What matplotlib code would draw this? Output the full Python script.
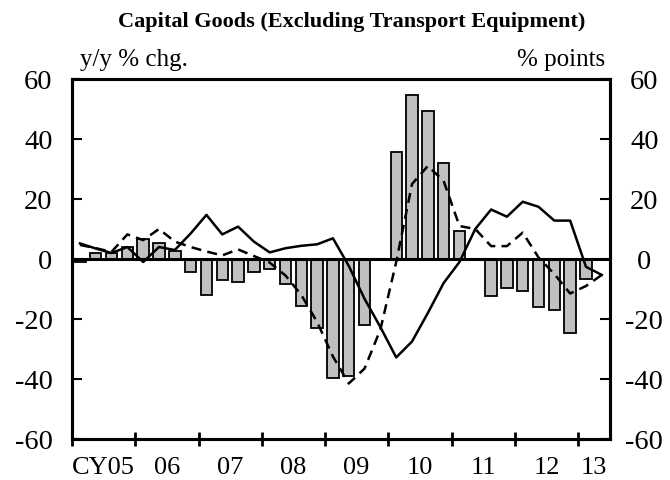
import matplotlib
matplotlib.use("Agg")
import matplotlib.pyplot as plt
import matplotlib.transforms as mtransforms
import numpy as np

plt.rcParams['font.family'] = ['Liberation Serif', 'DejaVu Serif']

# Quarterly data, CY2005 Q1 .. CY2013 Q2
bar_values = [-1, 2, 2, 4, 6.7, 5.5, 2.8, -4.2,
              -12, -7, -7.7, -4.3, -3.4, -8.4, -15.7, -23.1,
              -39.6, -39, -22, 0, 35.8, 54.7, 49.5, 32,
              9.2, 0, -12.3, -9.8, -10.6, -15.9, -17, -24.5,
              -6.8, 0]
solid_values = [5.2, 3.5, 2, 4, -1, 4, 3, 8.5,
                14.7, 8.2, 10.8, 5.8, 2.2, 3.6, 4.4, 4.9,
                6.9, -2.3, -13.3, -22.7, -32.8, -27.5, -18, -8,
                -1, 10, 16.5, 14.1, 19.1, 17.4, 12.8, 12.8,
                -2.6, -5.3]
dashed_values = [4.7, 3.6, 2.4, 8.2, 6.3, 10, 5.8, 4,
                 2.5, 1.2, 3.2, 1.0, -1.2, -5.5, -12, -21,
                 -32.5, -41.5, -36.5, -23.5, -1, 25, 31, 26,
                 11, 10, 4.3, 4.3, 8.8, 0.5, -5, -11.5,
                 -9, -5.3]
year_labels = ["CY05", "06", "07", "08", "09", "10", "11", "12", "13"]
y_ticks = [-60, -40, -20, 0, 20, 40, 60]

n = len(bar_values)
x = np.arange(n) + 0.5

fig = plt.figure(figsize=(6.7, 4.8), dpi=100)
ax = fig.add_axes([0.1075, 0.0854, 0.8025, 0.75])

ax.bar(x, bar_values, width=0.72, color="#c0c0c0", edgecolor="black",
       linewidth=1.3, zorder=2)
ax.axhline(0, color="black", linewidth=2.2, zorder=3)
ax.plot(x, solid_values, color="black", linewidth=1.8, zorder=4)
ax.plot(x, dashed_values, color="black", linewidth=1.8,
        linestyle=(0, (4, 2.5)), zorder=4)

ax.set_xlim(0, n)
ax.set_ylim(-60, 60)

# year boundaries as ticks, year names centred in each year
ax.set_xticks(np.arange(0, n, 4))
ax.set_xticklabels([])
ax.tick_params(axis="x", which="major", direction="inout", length=10,
               width=2, color="black")
label_pos = [4 * k + 2 for k in range(len(year_labels))]
label_pos[-1] = 33
year_trans = mtransforms.blended_transform_factory(ax.transData, fig.transFigure)
for pos, lab in zip(label_pos, year_labels):
    ax.text(pos, 0.012, lab, transform=year_trans,
            ha="center", va="baseline", fontsize=19)

# left scale
ax.set_yticks(y_ticks)
ax.set_yticklabels([str(v) for v in y_ticks], fontsize=20.5)
ax.tick_params(axis="y", direction="in", length=7, width=1.5,
               left=True, right=True, labelleft=True, labelright=False,
               pad=14)

# right scale, labels centred beside the frame
axr = ax.twinx()
axr.set_ylim(ax.get_ylim())
axr.set_yticks(y_ticks)
axr.set_yticklabels([str(v) for v in y_ticks], fontsize=20.5)
axr.tick_params(axis="y", direction="in", length=7, width=1.5, pad=25)
for lbl in axr.get_yticklabels():
    lbl.set_horizontalalignment("center")

for s in list(ax.spines.values()) + list(axr.spines.values()):
    s.set_linewidth(2.2)

fig.text(0.525, 0.955, "Capital Goods (Excluding Transport Equipment)",
         ha="center", va="center", fontsize=16, fontweight="bold")
fig.text(0.12, 0.875, "y/y % chg.", ha="left", va="center", fontsize=18)
fig.text(0.903, 0.875, "% points", ha="right", va="center", fontsize=18)

fig.savefig("out.png", dpi=100)
